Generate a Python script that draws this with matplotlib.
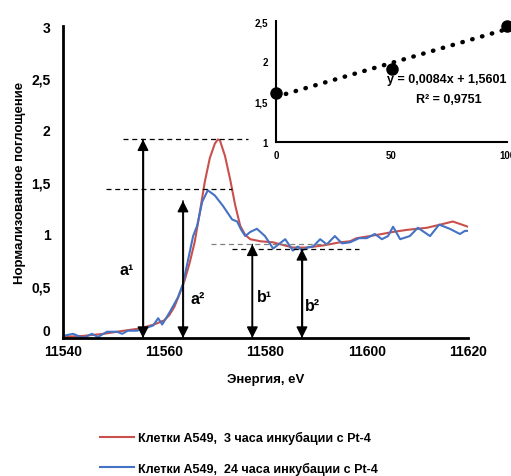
import matplotlib
matplotlib.use("Agg")
import matplotlib.pyplot as plt

plt.rcParams['font.family'] = ['Liberation Sans', 'DejaVu Sans']

# ---- data ----
energy_red = [11540, 11544, 11548, 11552, 11555, 11558, 11560, 11561, 11562, 11563, 11564,
              11565, 11566, 11567, 11568, 11569, 11570, 11570.6, 11571, 11572, 11573, 11574,
              11575, 11576, 11577, 11579, 11581.5, 11583, 11585.4, 11588.2, 11591.4, 11594.7,
              11596.7, 11598, 11600.6, 11603, 11605.2, 11608, 11611.9, 11614.5, 11617, 11620]
abs_red = [0.01, 0.02, 0.04, 0.07, 0.09, 0.13, 0.17, 0.22, 0.30, 0.42, 0.55,
           0.72, 0.92, 1.20, 1.50, 1.73, 1.87, 1.91, 1.90, 1.75, 1.53, 1.28,
           1.08, 0.99, 0.95, 0.93, 0.92, 0.90, 0.87, 0.87, 0.89, 0.92,
           0.93, 0.96, 0.98, 1.00, 1.02, 1.04, 1.06, 1.09, 1.12, 1.07]

energy_blue = [11540, 11542, 11544, 11545.7, 11546.9, 11548.7, 11550.7, 11551.7, 11552.8, 11554.6,
               11556.6, 11557.8, 11558.8, 11559.6, 11561.1, 11562.7, 11563.7, 11564.7, 11565.7,
               11566.5, 11567.5, 11568.6, 11570, 11571.6, 11573.4, 11574.4, 11575.2, 11576,
               11577, 11578.3, 11579.9, 11581.5, 11583.9, 11585.4, 11586.4, 11587.2, 11588.2,
               11589.4, 11590.8, 11592.1, 11593.7, 11595.1, 11596.7, 11598.5, 11600, 11601.6,
               11603, 11604.2, 11605.2, 11606.6, 11608.5, 11610.1, 11612.5, 11614.3, 11616.4,
               11618.4, 11619.4, 11620]
abs_blue = [0.02, 0.04, 0.00, 0.04, 0.01, 0.06, 0.06, 0.04, 0.07, 0.07,
            0.10, 0.12, 0.19, 0.13, 0.25, 0.39, 0.52, 0.75, 0.98,
            1.08, 1.31, 1.42, 1.37, 1.27, 1.14, 1.12, 1.04, 0.98,
            1.02, 1.05, 0.98, 0.86, 0.95, 0.84, 0.88, 0.84, 0.87,
            0.88, 0.95, 0.90, 0.98, 0.91, 0.92, 0.96, 0.96, 1.00,
            0.95, 0.98, 1.07, 0.95, 0.98, 1.06, 0.98, 1.09, 1.05,
            1.00, 1.03, 1.03]

label_red = "Клетки A549,  3 часа инкубации с Pt-4"
label_blue = "Клетки A549,  24 часа инкубации с Pt-4"

# annotation arrows
arrow_x = [11555.8, 11563.7, 11577.4, 11587.2]
arrow_top = [1.91, 1.32, 0.90, 0.856]
arrow_labels = ["a¹", "a²", "b¹", "b²"]
# dashed reference lines
dash_y = [1.91, 1.43, 0.90, 0.856]
dash_x0 = [11551.9, 11548.5, 11569.2, 11573.4]
dash_x1 = [11576.5, 11573.4, 11592.3, 11598.5]
dash_col = ['black', 'black', '#808080', 'black']

# inset
inset_x = [0, 50, 100]
inset_y = [1.61, 1.91, 2.44]
slope, intercept = 0.0084, 1.5601

xticks = [11540, 11560, 11580, 11600, 11620]
yticks = [0, 0.5, 1, 1.5, 2, 2.5, 3]
ytick_labels = ["0", "0,5", "1", "1,5", "2", "2,5", "3"]

# ---- figure ----
fig = plt.figure(figsize=(5.11, 4.77), dpi=100)
ax = fig.add_axes([63/511, 1-339/477, (468-63)/511, (339-27)/477])

l1, = ax.plot(energy_red, abs_red, color='#C9504D', lw=1.5, label=label_red)
l2, = ax.plot(energy_blue, abs_blue, color='#4472C4', lw=1.5, label=label_blue)

for y, x0, x1, c in zip(dash_y, dash_x0, dash_x1, dash_col):
    ax.plot([x0, x1], [y, y], ls=(0, (4, 3)), color=c, lw=0.9)

arrow_line_cols = ['black', '#707070', 'black', 'black']
for x, top, c in zip(arrow_x, arrow_top, arrow_line_cols):
    ax.annotate('', xy=(x, 0), xytext=(x, top),
                arrowprops=dict(arrowstyle='-|>', color='black', lw=1.0,
                                mutation_scale=17, shrinkA=0, shrinkB=0))
    ax.annotate('', xy=(x, top), xytext=(x, 0),
                arrowprops=dict(arrowstyle='-|>', color='black', lw=1.0,
                                mutation_scale=17, shrinkA=0, shrinkB=0))
    ax.plot([x, x], [0.05, top - 0.05], color=c, lw=1.0)

label_pos = [(11552.5, 0.66), (11566.6, 0.38), (11579.9, 0.40), (11589.3, 0.31)]
for (lx, ly), t in zip(label_pos, arrow_labels):
    ax.text(lx, ly, t, fontsize=11.5, fontweight='bold', ha='center', va='center')

ax.set_xlim(11540, 11620)
ax.set_ylim(0, 3)
ax.set_xticks(xticks)
ax.set_xticklabels([str(t) for t in xticks])
ax.set_yticks(yticks)
ax.set_yticklabels(ytick_labels)
ax.tick_params(axis='x', length=0, labelsize=10, pad=4)
ax.tick_params(axis='y', length=0, labelsize=10, pad=9)
for lab in ax.get_xticklabels() + ax.get_yticklabels():
    lab.set_fontweight('bold')
ax.get_yticklabels()[0].set_verticalalignment('bottom')
ax.spines['top'].set_visible(False)
ax.spines['right'].set_visible(False)
ax.spines['left'].set_linewidth(2)
ax.spines['bottom'].set_linewidth(2)
ax.set_xlabel("Энергия, eV", fontsize=9.5, fontweight='bold', labelpad=11)
ax.set_ylabel("Нормализованное поглощение", fontsize=9.5, fontweight='bold', labelpad=4)

# inset
axi = fig.add_axes([276/511, 1-143/477, (507-276)/511, (143-22)/477])
xs = [0, 100]
axi.plot(xs, [intercept + slope*v for v in xs], ls=(0, (0.1, 2.2)), dash_capstyle='round',
         color='black', lw=3.2)
axi.plot(inset_x, inset_y, 'o', color='black', ms=8, clip_on=False)
axi.set_xlim(0, 100)
axi.set_ylim(1, 2.5)
axi.set_xticks([0, 50, 100])
axi.set_yticks([1, 1.5, 2, 2.5])
axi.set_yticklabels(["1", "1,5", "2", "2,5"])
axi.tick_params(length=0, labelsize=7, pad=6)
for lab in axi.get_xticklabels() + axi.get_yticklabels():
    lab.set_fontweight('bold')
axi.spines['top'].set_visible(False)
axi.spines['right'].set_visible(False)
axi.spines['left'].set_linewidth(1.5)
axi.spines['bottom'].set_linewidth(1.5)
axi.patch.set_alpha(0)
axi.text(48, 1.78, "y = 0,0084x + 1,5601", fontsize=9, fontweight='bold',
         ha='left', va='center', clip_on=False)
axi.text(75, 1.53, "R² = 0,9751", fontsize=9, fontweight='bold',
         ha='center', va='center')

fig.legend(handles=[l1, l2], loc='upper left', bbox_to_anchor=(89/511, 1-421/477),
           frameon=False, prop={'weight': 'bold', 'size': 9},
           handlelength=2.7, handletextpad=0.35, labelspacing=1.4)

fig.savefig("out.png", dpi=100)
